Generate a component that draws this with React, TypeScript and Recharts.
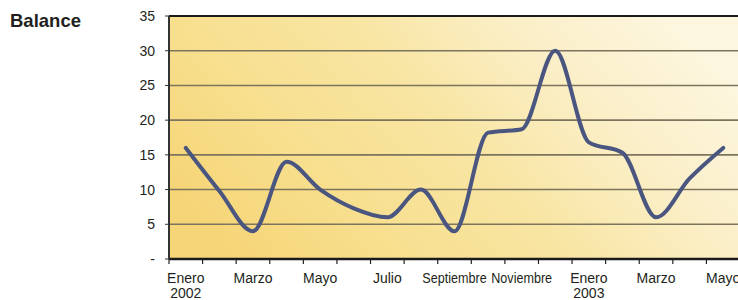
import { LineChart, Line, XAxis, YAxis, CartesianGrid, ReferenceLine } from "recharts";

// one point per month, Jan 2002 .. May 2003
const months = [
  "Enero", "Febrero", "Marzo", "Abril", "Mayo", "Junio", "Julio", "Agosto", "Septiembre",
  "Octubre", "Noviembre", "Diciembre", "Enero", "Febrero", "Marzo", "Abril", "Mayo",
];
const balance = [16, 9.8, 4, 14, 10, 7.3, 6, 10, 4, 18.2, 18.7, 30, 16.8, 15.3, 6, 11.6, 16];
// every other month is labelled, the year goes under January
const tickLabels = [
  "Enero\n2002", "", "Marzo", "", "Mayo", "", "Julio", "", "Septiembre",
  "", "Noviembre", "", "Enero\n2003", "", "Marzo", "", "Mayo",
];
const yTicks = [0, 5, 10, 15, 20, 25, 30, 35];

const data = months.map((month, i) => ({ key: `${month}-${i}`, month, balance: balance[i] }));

const textColor = "#231f20";
const font = "'Liberation Sans', Arial, sans-serif";

function MonthTick(props: any) {
  const { x, y, index, payload } = props;
  const half = payload?.offset || 16.8;
  const lines = (tickLabels[index] || "").split("\n").filter(Boolean);
  return (
    <g>
      <line x1={x - half} x2={x - half} y1={y} y2={y + 5} stroke="#222" strokeWidth={1.2} />
      {lines.map((t: string, i: number) => (
        <text
          key={i}
          transform={`translate(${x},${y + 24 + i * 15}) scale(${t.length > 8 ? 0.9 : 1},1)`}
          textAnchor="middle"
          fontSize={14}
          fontFamily={font}
          fill={textColor}
        >
          {t}
        </text>
      ))}
    </g>
  );
}

export default function App() {
  return (
    <div style={{ position: "absolute", left: 0, top: 0, width: 738, height: 300, background: "#fff", overflow: "hidden" }}>
      <div
        style={{
          position: "absolute",
          left: 10,
          top: 12,
          fontFamily: font,
          fontWeight: "bold",
          fontSize: 18.5,
          lineHeight: "18px",
          color: textColor,
        }}
      >
        Balance
      </div>
      <LineChart width={738} height={300} data={data} margin={{ top: 16, right: -2, bottom: 0, left: 0 }}>
        <defs>
          <linearGradient id="bg" x1="0" y1="0.7" x2="1" y2="0.3">
            <stop offset="0" stopColor="#f6d577" />
            <stop offset="0.24" stopColor="#f7df8e" />
            <stop offset="0.5" stopColor="#f8e5a2" />
            <stop offset="0.76" stopColor="#fbefc8" />
            <stop offset="1" stopColor="#fdf6df" />
          </linearGradient>
        </defs>
        <CartesianGrid vertical={false} fill="url(#bg)" stroke="#7d745e" strokeWidth={1.6} />
        <ReferenceLine y={35} stroke="#1a1a1a" strokeWidth={2} />
        <XAxis
          dataKey="key"
          type="category"
          scale="band"
          interval={0}
          height={41}
          tickSize={0}
          tickMargin={0}
          tickLine={false}
          axisLine={{ stroke: "#1a1a1a", strokeWidth: 2.5 }}
          tick={<MonthTick />}
        />
        <YAxis
          width={169}
          domain={[0, 35]}
          ticks={yTicks}
          interval={0}
          tickSize={4}
          tickMargin={10}
          tickFormatter={(v: number) => (v === 0 ? "-" : String(v))}
          tick={{ fontSize: 14, fill: textColor, fontFamily: font }}
          tickLine={{ stroke: "#333" }}
          axisLine={{ stroke: "#333", strokeWidth: 2 }}
        />
        <Line
          type="monotone"
          dataKey="balance"
          stroke="#4b5680"
          strokeWidth={4}
          dot={false}
          strokeLinecap="round"
          isAnimationActive={false}
        />
      </LineChart>
    </div>
  );
}
